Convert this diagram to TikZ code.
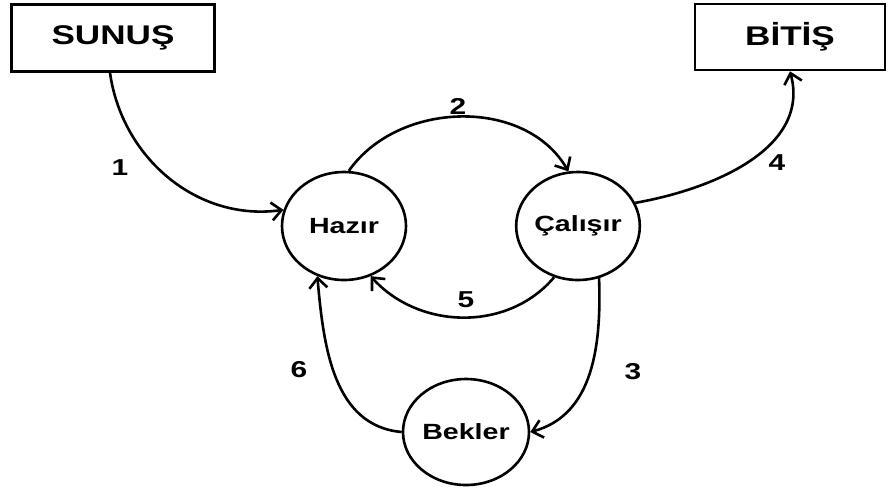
\documentclass[tikz,border=0pt]{standalone}
\usepackage{fontspec}
\setmainfont{Liberation Sans}[FakeStretch=1.3]
\usetikzlibrary{shapes.geometric,arrows.meta}
\begin{document}
\begin{tikzpicture}[x=1pt,y=-1pt,
  every node/.style={font=\bfseries},
  box/.style={draw,line width=2.6pt,rectangle,inner sep=0pt,font=\fontsize{27}{29}\selectfont\bfseries},
  state/.style={draw,line width=2.6pt,ellipse,inner sep=0pt,font=\fontsize{22}{24}\selectfont\bfseries},
  conn/.style={line width=2.6pt,-{Straight Barb[length=10pt,width=18pt,line width=2.6pt]}},
  num/.style={font=\fontsize{23}{25}\selectfont\bfseries}]
\useasboundingbox (0,0) rectangle (888,491);
\node[box,minimum width=203pt,minimum height=67pt] (sunus) at (113,38) {SUNUŞ};
\node[box,minimum width=190pt,minimum height=66pt] (bitis) at (790,37) {BİTİŞ};
\node[state,minimum width=124pt,minimum height=108pt] (hazir) at (344,226) {Hazır};
\node[state,minimum width=116pt,minimum height=108pt] (calis) at (578,226) {Çalışır};
\node[state,minimum width=126pt,minimum height=106pt] (bekler) at (466,432) {Bekler};
\draw[conn] (sunus.south) ++(-3,0) coordinate (s1) (s1) to[out=-82,in=188] (hazir.165);
\draw[conn] (hazir.85) to[out=55,in=120] (calis.100);
\draw[conn] (calis.22) to[out=10,in=-75] (bitis.south);
\draw[conn] (calis.245) to[out=-130,in=-48] (hazir.298);
\draw[conn] (calis.292) to[out=-88,in=15] (bekler.east);
\draw[conn] (bekler.west) to[out=175,in=-85] (hazir.242);
\node[num] (n1) at (120,168) {1};
\node[num] (n2) at (458,106) {2};
\node[num] (n4) at (777,163) {4};
\node[num] (n5) at (466,300) {5};
\node[num] (n3) at (633,372) {3};
\node[num] (n6) at (299,370) {6};
\end{tikzpicture}
\end{document}
